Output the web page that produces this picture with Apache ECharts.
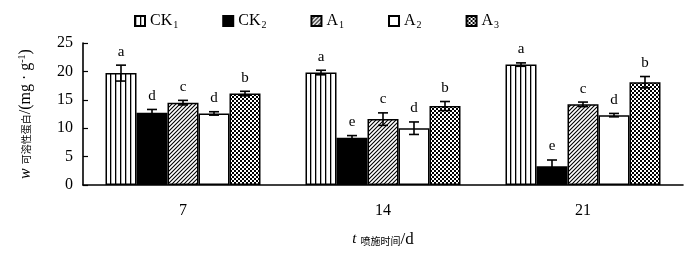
<!DOCTYPE html>
<html>
<head>
<meta charset="utf-8">
<script src="https://cdn.jsdelivr.net/npm/echarts@6/dist/echarts.min.js"></script>
<style>
  html, body { margin: 0; padding: 0; background: #fff; }
  #main { width: 700px; height: 255px; }
</style>
</head>
<body>
<div id="main"></div>
<script>
// spraying time, d
var days = ['7', '14', '21'];
var groups = ['CK1', 'CK2', 'A1', 'A2', 'A3'];

var ck1Mean = [19.7, 19.8, 21.2];
var ck1Err  = [1.4, 0.4, 0.3];
var ck1Sig  = ['a', 'a', 'a'];

var ck2Mean = [12.7, 8.3, 3.3];
var ck2Err  = [0.6, 0.4, 1.1];
var ck2Sig  = ['d', 'e', 'e'];

var a1Mean = [14.5, 11.6, 14.2];
var a1Err  = [0.4, 1.1, 0.4];
var a1Sig  = ['c', 'c', 'c'];

var a2Mean = [12.6, 10.0, 12.3];
var a2Err  = [0.3, 1.1, 0.3];
var a2Sig  = ['d', 'd', 'd'];

var a3Mean = [16.1, 13.9, 18.1];
var a3Err  = [0.4, 0.8, 1.0];
var a3Sig  = ['b', 'b', 'b'];

var yTicks = [0, 5, 10, 15, 20, 25];

var means = [ck1Mean, ck2Mean, a1Mean, a2Mean, a3Mean];
var errs = [ck1Err, ck2Err, a1Err, a2Err, a3Err];
var sigs = [ck1Sig, ck2Sig, a1Sig, a2Sig, a3Sig];

var SERIF = 'Liberation Serif';
var CAT_GAP = 0.225;

// fill patterns
function makePattern(size, draw) {
    var c = document.createElement('canvas');
    c.width = size; c.height = size;
    var ctx = c.getContext('2d');
    ctx.fillStyle = '#fff';
    ctx.fillRect(0, 0, size, size);
    ctx.fillStyle = '#000';
    ctx.strokeStyle = '#000';
    draw(ctx);
    return { image: c, repeat: 'repeat' };
}
var fills = [
    makePattern(5, function (ctx) { ctx.fillRect(0, 0, 1.3, 5); }),
    '#000',
    makePattern(4, function (ctx) {
        ctx.lineWidth = 1.1;
        ctx.beginPath();
        ctx.moveTo(-1, 5); ctx.lineTo(5, -1);
        ctx.moveTo(-1, 1); ctx.lineTo(1, -1);
        ctx.moveTo(3, 5); ctx.lineTo(5, 3);
        ctx.stroke();
    }),
    '#fff',
    makePattern(4, function (ctx) {
        ctx.fillRect(0, 0, 2, 2);
        ctx.fillRect(2, 2, 2, 2);
    })
];

var series = groups.map(function (name, i) {
    return {
        name: name,
        type: 'bar',
        barGap: '0%',
        barCategoryGap: (CAT_GAP * 100) + '%',
        itemStyle: { color: fills[i], borderColor: '#000', borderWidth: 1.5 },
        data: means[i]
    };
});

var errData = [];
for (var s = 0; s < groups.length; s++) {
    for (var d = 0; d < days.length; d++) {
        errData.push([d, s, means[s][d], errs[s][d], sigs[s][d]]);
    }
}

series.push({
    type: 'custom',
    z: 10,
    silent: true,
    encode: { x: 0, y: 2 },
    data: errData,
    renderItem: function (params, api) {
        var cat = api.value(0), si = api.value(1);
        var m = api.value(2), e = api.value(3);
        var band = api.size([1, 0])[0];
        var bw = band * (1 - CAT_GAP) / groups.length;
        var x = api.coord([cat, m])[0] + (si - (groups.length - 1) / 2) * bw;
        var top = api.coord([cat, m + e])[1];
        var bot = api.coord([cat, m - e])[1];
        var cap = 5;
        var st = { stroke: '#000', lineWidth: 1.6 };
        return {
            type: 'group',
            children: [
                { type: 'line', shape: { x1: x, y1: top, x2: x, y2: bot }, style: st },
                { type: 'line', shape: { x1: x - cap, y1: top, x2: x + cap, y2: top }, style: st },
                { type: 'line', shape: { x1: x - cap, y1: bot, x2: x + cap, y2: bot }, style: st },
                {
                    type: 'text',
                    style: {
                        text: errData[params.dataIndex][4],
                        x: x, y: top - 6,
                        align: 'center', verticalAlign: 'bottom',
                        font: '15px "' + SERIF + '"', fill: '#000'
                    }
                }
            ]
        };
    }
});

var chart = echarts.init(document.getElementById('main'));
chart.setOption({
    animation: false,
    backgroundColor: '#fff',
    textStyle: { fontFamily: SERIF, color: '#000' },
    legend: {
        data: groups,
        top: 8,
        left: 129,
        itemWidth: 10,
        itemHeight: 10,
        itemGap: 44,
        icon: 'rect',
        formatter: function (n) { return n.replace(/(\d)$/, '{s|$1}'); },
        textStyle: {
            fontFamily: SERIF, fontSize: 16, color: '#000',
            rich: { s: { fontFamily: SERIF, fontSize: 10, padding: [9, 0, 0, 1] } }
        }
    },
    grid: { left: 83, right: 17, top: 43, bottom: 70 },
    xAxis: {
        type: 'category',
        data: days,
        name: '{i|t} {c|喷施时间}/d',
        nameLocation: 'middle',
        nameGap: 46,
        nameTextStyle: {
            fontFamily: SERIF, fontSize: 17, color: '#000',
            rich: {
                i: { fontFamily: SERIF, fontStyle: 'italic', fontSize: 15 },
                c: { fontFamily: 'Noto Sans CJK SC', fontSize: 10, padding: [3, 0, 0, 0] }
            }
        },
        axisLine: { lineStyle: { color: '#000', width: 1.6 } },
        axisTick: { inside: true, length: 5, lineStyle: { color: '#000', width: 1.2 } },
        axisLabel: { margin: 18, fontFamily: SERIF, fontSize: 16, color: '#000' }
    },
    yAxis: {
        type: 'value',
        min: yTicks[0],
        max: yTicks[yTicks.length - 1],
        interval: 5,
        name: '{i|w} {c|可溶性蛋白}/(mg · g{sup|-1})',
        nameLocation: 'middle',
        nameGap: 48,
        nameTextStyle: {
            fontFamily: SERIF, fontSize: 16, color: '#000',
            rich: {
                i: { fontFamily: SERIF, fontStyle: 'italic', fontSize: 16 },
                c: { fontFamily: 'Noto Sans CJK SC', fontSize: 10 },
                sup: { fontFamily: SERIF, fontSize: 10, padding: [0, 0, 8, 0] }
            }
        },
        splitLine: { show: false },
        axisLine: { show: true, lineStyle: { color: '#000', width: 1.6 } },
        axisTick: { show: true, inside: true, length: 5, lineStyle: { color: '#000', width: 1.2 } },
        axisLabel: { margin: 10, fontFamily: SERIF, fontSize: 16, color: '#000' }
    },
    series: series
});
</script>
</body>
</html>
